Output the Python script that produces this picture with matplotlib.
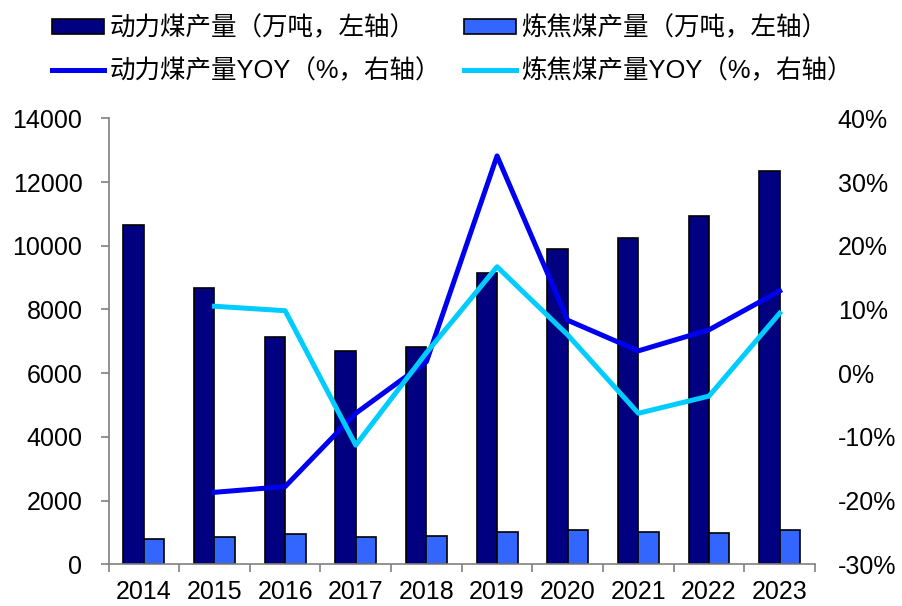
import numpy as np
import matplotlib
matplotlib.use("Agg")
import matplotlib.pyplot as plt
from matplotlib.ticker import FuncFormatter

plt.rcParams['font.family'] = ['Liberation Sans', 'Noto Sans CJK SC', 'DejaVu Sans']

years = ['2014', '2015', '2016', '2017', '2018', '2019', '2020', '2021', '2022', '2023']
thermal = [10650, 8660, 7125, 6690, 6810, 9145, 9900, 10250, 10925, 12345]
coking = [790, 870, 950, 850, 890, 1015, 1075, 1015, 975, 1065]
thermal_yoy = [np.nan, -18.7, -17.8, -6.3, 1.8, 34.1, 8.3, 3.5, 6.8, 12.9]
coking_yoy = [np.nan, 10.5, 9.8, -11.3, 3.2, 16.7, 6.0, -6.3, -3.6, 9.4]

x = np.arange(len(years))
w = 0.29

fig = plt.figure(figsize=(9.02, 6.06), dpi=100)
ax = fig.add_axes([0.1203, 0.0688, 0.7832, 0.736])
ax2 = ax.twinx()

b1 = ax.bar(x - w / 2, thermal, w, color='#000080', edgecolor='black', linewidth=1.2,
            label='动力煤产量（万吨，左轴）', zorder=2)
b2 = ax.bar(x + w / 2, coking, w, color='#3366FF', edgecolor='black', linewidth=1.2,
            label='炼焦煤产量（万吨，左轴）', zorder=2)
l1, = ax2.plot(x, thermal_yoy, color='#0000F0', lw=3.6, label='动力煤产量YOY（%，右轴）')
l2, = ax2.plot(x, coking_yoy, color='#00CCFF', lw=3.6, label='炼焦煤产量YOY（%，右轴）')

ax.set_xlim(-0.5, len(years) - 0.5)
ax.set_ylim(0, 14000)
ax.set_yticks(np.arange(0, 14001, 2000))
ax2.set_ylim(-30, 40)
ax2.set_yticks(np.arange(-30, 41, 10))
ax2.yaxis.set_major_formatter(FuncFormatter(lambda v, p: f'{v:.0f}%'))

ax.set_xticks(x)
ax.set_xticklabels(years)
ax.set_xticks(np.arange(-0.5, len(years), 1), minor=True)
ax.tick_params(axis='x', which='major', length=0, labelsize=18, pad=11)
ax.tick_params(axis='x', which='minor', length=5.8, color='#808080', width=1.2, direction='out')
ax.tick_params(axis='y', labelsize=18, length=5.8, color='#808080', width=1.2, direction='out', pad=13)
ax2.tick_params(axis='y', labelsize=18, length=0, pad=16.5)

for a in (ax, ax2):
    a.spines['top'].set_visible(False)
    a.spines['right'].set_visible(False)
ax2.spines['left'].set_visible(False)
ax2.spines['bottom'].set_visible(False)
ax.spines['left'].set_color('#808080')
ax.spines['bottom'].set_color('#808080')
ax.spines['left'].set_linewidth(1.2)
ax.spines['bottom'].set_linewidth(1.2)

fig.legend([b1, l1, b2, l2], [b1.get_label(), l1.get_label(), b2.get_label(), l2.get_label()],
           ncol=2, loc='upper left', bbox_to_anchor=(52 / 902, 1 - 16 / 606), frameon=False,
           fontsize=18.4, handlelength=2.05, handleheight=0.55, handletextpad=0.2,
           columnspacing=0.9, labelspacing=0.72, borderpad=0, borderaxespad=0)

fig.savefig('out.png', dpi=100)
